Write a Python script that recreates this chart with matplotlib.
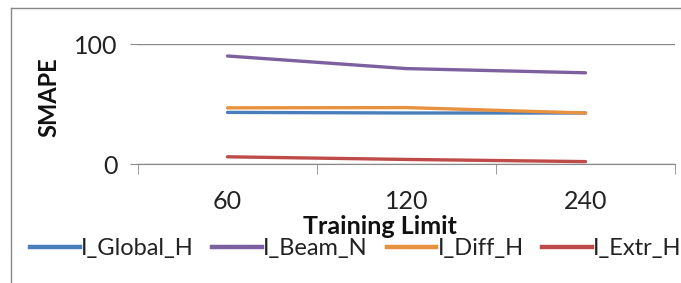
import matplotlib
matplotlib.use("Agg")
import matplotlib.pyplot as plt
from matplotlib.lines import Line2D

categories = ["60", "120", "240"]
global_h = [43, 42.5, 42.5]
beam_n = [90, 79.5, 76]
diff_h = [46.8, 47, 42.5]
extr_h = [6, 3.8, 2]

series = [
    ("I_Global_H", global_h, "#4A7EBB"),
    ("I_Beam_N", beam_n, "#7D60A0"),
    ("I_Diff_H", diff_h, "#E8913F"),
    ("I_Extr_H", extr_h, "#BE4B48"),
]

plt.rcParams['font.family'] = ['Lato', 'DejaVu Sans']
W, H = 681, 283
fig = plt.figure(figsize=(W/100, H/100), dpi=100)
ax = fig.add_axes([138/W, 1-164/H, (675-138)/W, 120/H])

x = list(range(len(categories)))
for name, vals, col in series:
    ax.plot(x, vals, color=col, lw=2.4, label=name, solid_capstyle='round')

ax.set_xlim(-0.5, len(categories)-0.5)
ax.set_ylim(0, 100)
ax.set_yticks([0, 100])
ax.set_yticklabels(["0", "100"], fontsize=18, color="#222222")
ax.set_xticks(x)
ax.set_xticklabels(categories, fontsize=18, color="#222222")
ax.tick_params(axis='x', which='major', length=0, pad=19)
ax.set_xticks([i-0.5 for i in range(len(categories)+1)], minor=True)
ax.tick_params(axis='x', which='minor', length=7, color="#888888", direction='out')
ax.tick_params(axis='y', length=6, color="#888888", pad=8.5)
for s in ['left', 'right', 'top']:
    ax.spines[s].set_visible(False)
ax.spines['bottom'].set_color("#888888")
ax.grid(axis='y', color="#888888", lw=1)
ax.set_axisbelow(True)

fig.text(48.5/W, 1-97.5/H, "SMAPE", rotation=90, fontsize=17, fontweight='bold',
         ha='center', va='center', color="#111111")
fig.text(380/W, 1-226/H, "Training Limit", fontsize=18, fontweight='bold',
         ha='center', va='center', color="#111111")

handles = [Line2D([], [], color=c, lw=3.2) for _, _, c in series]
fig.legend(handles, [n for n, _, _ in series], loc='center left', bbox_to_anchor=(30/W, 1-249/H),
           ncol=4, frameon=False, fontsize=17, handlelength=2.1, handletextpad=0.05,
           columnspacing=0.8, borderpad=0, borderaxespad=0, labelcolor="#222222")

fig.add_artist(Line2D([11/W, 11/W], [0, 1-8/H], color="#888888", lw=1, transform=fig.transFigure))
fig.add_artist(Line2D([11/W, 1], [1-8/H, 1-8/H], color="#888888", lw=1, transform=fig.transFigure))

fig.savefig("out.png", dpi=100)
